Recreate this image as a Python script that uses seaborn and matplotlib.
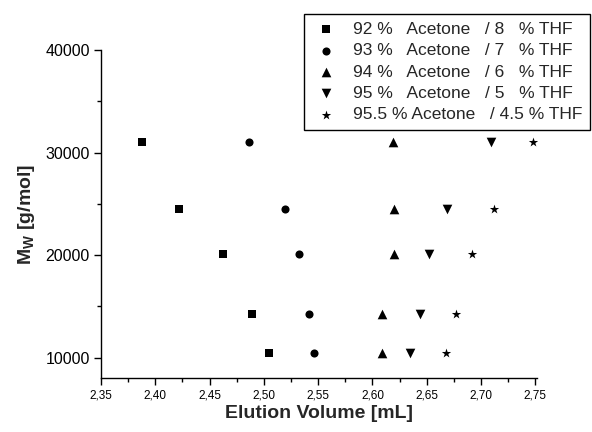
import numpy as np
import matplotlib
matplotlib.use('Agg')
import matplotlib.pyplot as plt
import seaborn as sns
from matplotlib.ticker import MultipleLocator, FuncFormatter

# values
mw = [31000, 24500, 20100, 14200, 10400]
vol_92 = [2.388, 2.422, 2.462, 2.489, 2.505]
vol_93 = [2.486, 2.519, 2.532, 2.542, 2.546]
vol_94 = [2.619, 2.620, 2.620, 2.609, 2.609]
vol_95 = [2.709, 2.669, 2.652, 2.644, 2.635]
vol_955 = [2.748, 2.712, 2.692, 2.677, 2.668]

labels = ['92 %   Acetone   / 8   % THF',
          '93 %   Acetone   / 7   % THF',
          '94 %   Acetone   / 6   % THF',
          '95 %   Acetone   / 5   % THF',
          '95.5 % Acetone   / 4.5 % THF']
series = [vol_92, vol_93, vol_94, vol_95, vol_955]
markers = ['s', 'o', '^', 'v', '*']
sizes = [28, 34, 48, 48, 50]

sns.set_theme(style='ticks')
plt.rcParams['font.family'] = ['Liberation Sans', 'DejaVu Sans']
plt.rcParams['mathtext.fontset'] = 'custom'
plt.rcParams['mathtext.rm'] = 'Liberation Sans'
plt.rcParams['mathtext.bf'] = 'Liberation Sans:bold'

fig = plt.figure(figsize=(5.92, 4.32), dpi=100)
ax = fig.add_axes([0.1706, 0.125, 0.7365, 0.759])

for vols, m, s, lab in zip(series, markers, sizes, labels):
    sns.scatterplot(x=vols, y=mw, marker=m, s=s, color='black',
                    edgecolor='black', linewidth=0, label=lab, ax=ax)

ax.set_xlim(2.35, 2.7515)
ax.set_ylim(8000, 40000)
ax.xaxis.set_major_locator(MultipleLocator(0.05))
ax.xaxis.set_minor_locator(MultipleLocator(0.025))
ax.yaxis.set_major_locator(MultipleLocator(10000))
ax.yaxis.set_minor_locator(MultipleLocator(5000))
ax.xaxis.set_major_formatter(FuncFormatter(lambda v, p: f'{v:.2f}'.replace('.', ',')))
ax.yaxis.set_major_formatter(FuncFormatter(lambda v, p: f'{v:.0f}'))
ax.tick_params(axis='x', which='major', labelsize=8.5, length=5, width=1, direction='out', colors='black', pad=3)
ax.tick_params(axis='y', which='major', labelsize=11.5, length=5, width=1, direction='out', colors='black', pad=3)
ax.tick_params(which='minor', length=3, width=1, direction='out', colors='black')
for sp in ['left', 'bottom']:
    ax.spines[sp].set_linewidth(1)
    ax.spines[sp].set_color('black')
sns.despine(ax=ax)

ax.set_xlabel('Elution Volume [mL]', fontsize=14, fontweight='bold', labelpad=3)
ax.set_ylabel(r'M$_\mathbf{W}$ [g/mol]', fontsize=14, fontweight='bold', labelpad=6)

handles, labs = ax.get_legend_handles_labels()
ax.get_legend().remove()
leg = fig.legend(handles, labs, loc='upper right', bbox_to_anchor=(0.997, 0.968),
                 fontsize=12.5, frameon=True, fancybox=False, framealpha=1,
                 edgecolor='black', labelspacing=0.36, handletextpad=0.75,
                 borderpad=0.45, handlelength=1.6, borderaxespad=0)
leg.get_frame().set_linewidth(1)

fig.savefig('out.png', dpi=100)
